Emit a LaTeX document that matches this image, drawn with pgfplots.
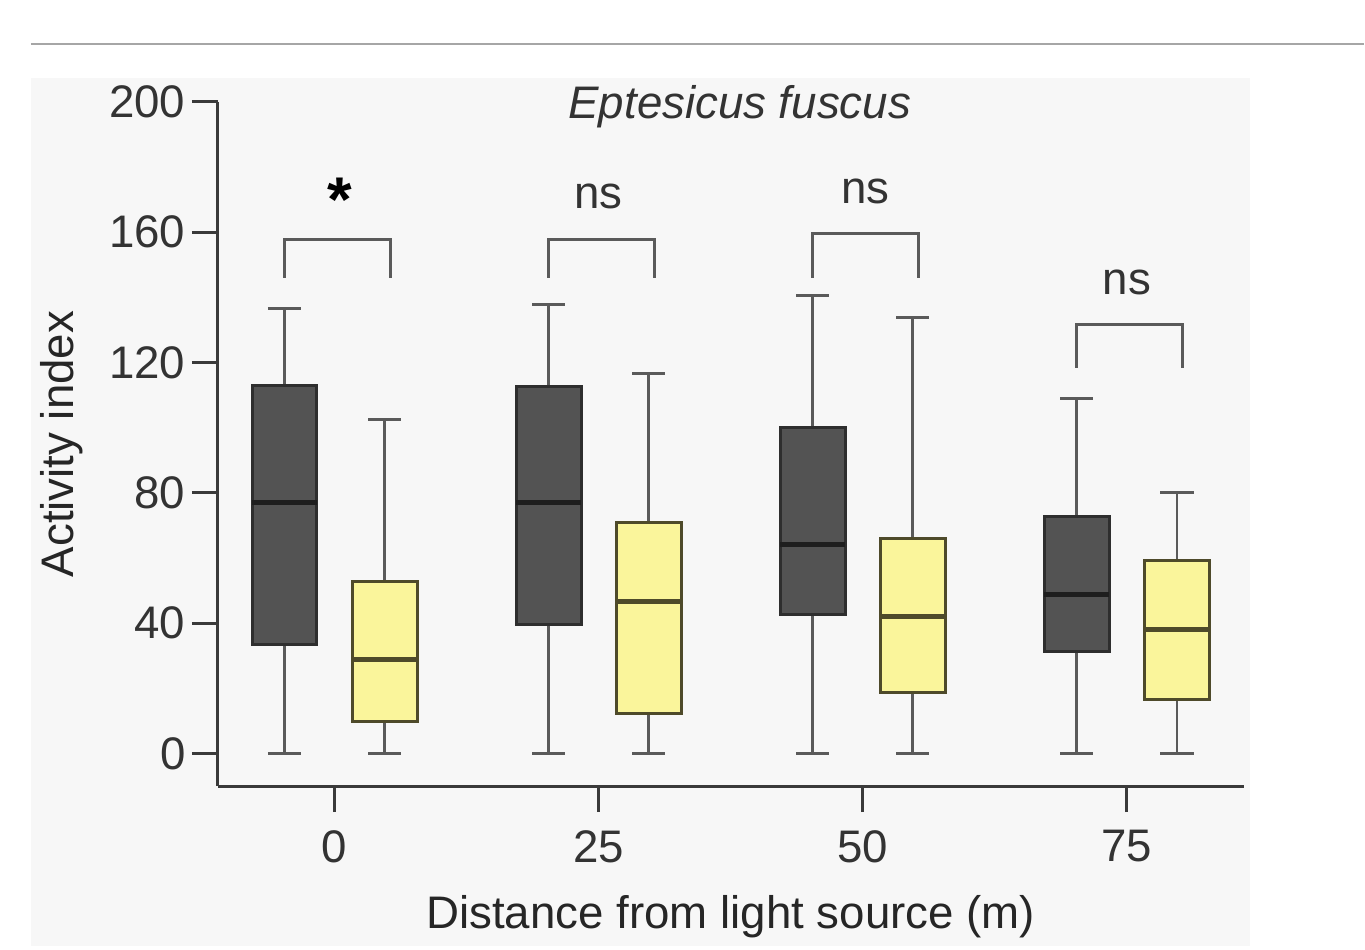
\documentclass[border=0pt]{standalone}
\usepackage{fontspec}
\setmainfont{Liberation Sans}
\usepackage{pgfplots}
\pgfplotsset{compat=1.18}

\definecolor{darkbox}{HTML}{535353}
\definecolor{darkedge}{HTML}{2E2E2E}
\definecolor{darkmed}{HTML}{1E1E1E}
\definecolor{yelbox}{HTML}{FAF59B}
\definecolor{yeledge}{HTML}{4E4A2A}
\definecolor{whisk}{HTML}{5A5A5A}
\definecolor{axgray}{HTML}{3A3A3A}
\definecolor{panel}{HTML}{F7F7F7}

% one box: #1 position, #2 lower whisker, #3 Q1, #4 median, #5 Q3,
% #6 upper whisker, #7 fill, #8 edge, #9 median colour
\newcommand\onebox[9]{%
  \pgfmathsetmacro\bxl{#1-0.123}\pgfmathsetmacro\bxr{#1+0.123}%
  \pgfmathsetmacro\cpl{#1-0.0625}\pgfmathsetmacro\cpr{#1+0.0625}%
  \edef\tmp{%
    \noexpand\addplot[whisk, line width=0.85pt, no marks] coordinates {(#1,#2) (#1,#3)};
    \noexpand\addplot[whisk, line width=0.85pt, no marks] coordinates {(#1,#5) (#1,#6)};
    \noexpand\addplot[whisk, line width=0.85pt, no marks] coordinates {(\cpl,#2) (\cpr,#2)};
    \noexpand\addplot[whisk, line width=0.85pt, no marks] coordinates {(\cpl,#6) (\cpr,#6)};
    \noexpand\addplot[fill=#7, draw=#8, line width=0.85pt, no marks]
      coordinates {(\bxl,#3) (\bxr,#3) (\bxr,#5) (\bxl,#5)} -- cycle;
    \noexpand\addplot[draw=#9, line width=1.4pt, no marks] coordinates {(\bxl,#4) (\bxr,#4)};
  }\tmp}

\begin{document}
\begin{tikzpicture}[font=\fontsize{13}{15}\selectfont]
  % page, panel and the rule above it (1 px of the reference = 0.1 mm)
  \fill[white] (-21.8mm,-16.0mm) rectangle (114.7mm,78.7mm);
  \fill[panel] (-18.7mm,-16.0mm) rectangle (103.3mm,70.9mm);
  \draw[black!35, line width=0.8pt] (-18.7mm,74.3mm) -- (114.7mm,74.3mm);

  \begin{axis}[
    scale only axis,
    width=102.7mm, height=68.5mm,
    xmin=-0.4427, xmax=3.4427,
    ymin=-10.1, ymax=200,
    axis x line=bottom, axis y line=left,
    axis line style={draw=axgray, line width=0.85pt, -},
    tick style={draw=axgray, line width=0.85pt},
    tick align=outside,
    major tick length=2.6mm,
    xtick={0,1,2,3},
    xticklabels={0,25,50,75},
    ytick={0,40,80,120,160,200},
    /pgf/number format/assume math mode=true,
    ticklabel style={text=black!80},
    yticklabel style={xshift=0.6mm},
    xticklabel style={yshift=-0.6mm},
    xlabel={Distance from light source (m)},
    ylabel={Activity index},
    xlabel style={at={(axis description cs:0.5,-0.191)}, anchor=center, text=black!85},
    ylabel style={at={(axis description cs:-0.152,0.5)}, anchor=center, text=black!85},
    clip=false,
  ]
    % 0 m
    \onebox{-0.19}{0}{33.4}{77}{113}{136.5}{darkbox}{darkedge}{darkmed}
    \onebox{0.19}{0}{9.8}{28.8}{52.8}{102.5}{yelbox}{yeledge}{yeledge}
    % 25 m
    \onebox{0.81}{0}{39.6}{77}{112.6}{137.7}{darkbox}{darkedge}{darkmed}
    \onebox{1.19}{0}{12.3}{46.6}{70.9}{116.6}{yelbox}{yeledge}{yeledge}
    % 50 m
    \onebox{1.81}{0}{42.6}{64.1}{100}{140.5}{darkbox}{darkedge}{darkmed}
    \onebox{2.19}{0}{18.7}{42}{66}{133.7}{yelbox}{yeledge}{yeledge}
    % 75 m
    \onebox{2.81}{0}{31.3}{48.8}{72.7}{108.9}{darkbox}{darkedge}{darkmed}
    \onebox{3.19}{0}{16.6}{38}{59.2}{80}{yelbox}{yeledge}{yeledge}

    % significance brackets
    \addplot[whisk, line width=0.85pt, no marks] coordinates {(-0.19,146) (-0.19,157.7) (0.21,157.7) (0.21,146)};
    \addplot[whisk, line width=0.85pt, no marks] coordinates {(0.81,146) (0.81,157.7) (1.21,157.7) (1.21,146)};
    \addplot[whisk, line width=0.85pt, no marks] coordinates {(1.81,146) (1.81,159.5) (2.21,159.5) (2.21,146)};
    \addplot[whisk, line width=0.85pt, no marks] coordinates {(2.81,118.4) (2.81,131.6) (3.21,131.6) (3.21,118.4)};

    \node at (axis cs:0.02,170) {\fontsize{18}{18}\selectfont\bfseries *};
    \node[text=black!80] at (axis cs:1.0,171) {ns};
    \node[text=black!80] at (axis cs:2.01,172.5) {ns};
    \node[text=black!80] at (axis cs:3.0,144.5) {ns};

    \node[text=black!80] at (axis cs:1.534,198.5) {\itshape Eptesicus fuscus};
  \end{axis}
\end{tikzpicture}
\end{document}
